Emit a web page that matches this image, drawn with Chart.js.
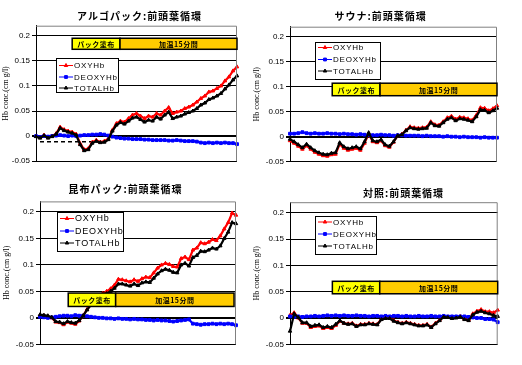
<!DOCTYPE html>
<html lang="ja">
<head>
  <meta charset="UTF-8">
  <title>前頭葉循環</title>
  <script src="https://cdn.jsdelivr.net/npm/chart.js"></script>
  <style>
    body { margin: 0; background: #fff; }
    #wrap { position: relative; width: 522px; height: 365px; overflow: hidden; }
    #wrap canvas { position: absolute; }
  </style>
</head>
<body>
<div id="wrap">
  <canvas id="c1" width="250" height="182" style="left:0;top:0"></canvas>
  <canvas id="c2" width="272" height="182" style="left:250px;top:0"></canvas>
  <canvas id="c3" width="250" height="183" style="left:0;top:182px"></canvas>
  <canvas id="c4" width="272" height="183" style="left:250px;top:182px"></canvas>
</div>
<script>
  // 凡例・目盛り・タイトル
  const seriesNames = ['OXYHb', 'DEOXYHb', 'TOTALHb'];
  const titles = ['アルゴパック:前頭葉循環', 'サウナ:前頭葉循環', '昆布パック:前頭葉循環', '対照:前頭葉循環'];
  const phaseLabels = ['パック塗布', '加温15分間'];
  const yTicks = [-0.05, 0, 0.05, 0.1, 0.15, 0.2];
  const yTitle = 'Hb conc.(cm g/l)';
  const steps = Array.from({ length: 51 }, (_, i) => i);

  // アルゴパック
  const argoOxy = [0.000, -0.003, 0.002, -0.003, 0.000, 0.005, 0.018, 0.013, 0.010, 0.008, 0.004,
    -0.015, -0.027, -0.025, -0.012, -0.008, -0.012, -0.010, -0.005, 0.012, 0.025,
    0.030, 0.028, 0.035, 0.042, 0.045, 0.040, 0.035, 0.040, 0.038, 0.045,
    0.042, 0.050, 0.057, 0.045, 0.048, 0.050, 0.055, 0.058, 0.062, 0.068,
    0.075, 0.080, 0.088, 0.090, 0.095, 0.100, 0.110, 0.118, 0.130, 0.138];
  const argoDeoxy = [0.000, -0.002, 0.000, -0.001, 0.000, 0.001, 0.002, 0.001, 0.000, 0.001, 0.000,
    0.001, 0.002, 0.002, 0.003, 0.003, 0.004, 0.003, 0.001, -0.001, -0.003,
    -0.004, -0.005, -0.005, -0.006, -0.006, -0.006, -0.007, -0.007, -0.008, -0.008,
    -0.008, -0.008, -0.009, -0.009, -0.008, -0.009, -0.010, -0.010, -0.010, -0.011,
    -0.013, -0.014, -0.013, -0.014, -0.013, -0.014, -0.013, -0.014, -0.014, -0.016];
  const argoTotal = [-0.001, -0.004, 0.001, -0.004, -0.001, 0.004, 0.016, 0.011, 0.008, 0.006, 0.002,
    -0.017, -0.029, -0.027, -0.014, -0.010, -0.013, -0.012, -0.007, 0.010, 0.022,
    0.027, 0.024, 0.030, 0.036, 0.038, 0.033, 0.028, 0.032, 0.030, 0.038,
    0.034, 0.042, 0.048, 0.035, 0.038, 0.040, 0.044, 0.047, 0.050, 0.055,
    0.062, 0.066, 0.073, 0.076, 0.080, 0.085, 0.094, 0.102, 0.112, 0.120];
  const argoMark = [{ x: 1, y: -0.011 }, { x: 16, y: -0.011 }];

  // サウナ
  const saunaOxy = [-0.008, -0.013, -0.019, -0.025, -0.018, -0.025, -0.031, -0.035, -0.038, -0.039,
    -0.036, -0.035, -0.015, -0.023, -0.027, -0.025, -0.023, -0.027, -0.013, 0.006,
    -0.010, -0.012, -0.008, -0.018, -0.021, -0.011, 0.002, 0.005, 0.013, 0.020,
    0.018, 0.017, 0.018, 0.019, 0.030, 0.024, 0.023, 0.030, 0.038, 0.041,
    0.035, 0.039, 0.038, 0.036, 0.033, 0.043, 0.058, 0.057, 0.052, 0.056, 0.062];
  const saunaDeoxy = [0.006, 0.006, 0.007, 0.009, 0.007, 0.006, 0.007, 0.006, 0.006, 0.007,
    0.006, 0.006, 0.005, 0.006, 0.005, 0.005, 0.004, 0.005, 0.004, 0.003,
    0.003, 0.003, 0.004, 0.003, 0.003, 0.002, 0.003, 0.003, 0.002, 0.002,
    0.002, 0.002, 0.001, 0.002, 0.001, 0.001, 0.001, 0.000, 0.001, 0.000,
    0.000, -0.001, 0.000, -0.001, -0.001, -0.001, -0.002, -0.001, -0.002, -0.002, -0.002];
  const saunaTotal = [-0.005, -0.010, -0.016, -0.022, -0.015, -0.022, -0.028, -0.032, -0.035, -0.036,
    -0.033, -0.032, -0.012, -0.020, -0.024, -0.022, -0.020, -0.024, -0.010, 0.008,
    -0.008, -0.010, -0.006, -0.016, -0.019, -0.010, 0.002, 0.004, 0.012, 0.018,
    0.016, 0.015, 0.016, 0.017, 0.028, 0.022, 0.021, 0.028, 0.035, 0.038,
    0.032, 0.036, 0.035, 0.033, 0.030, 0.040, 0.054, 0.053, 0.048, 0.052, 0.057];

  // 昆布パック
  const konbuOxy = [0.005, 0.004, 0.003, 0.000, -0.008, -0.009, -0.013, -0.008, -0.010, -0.012, -0.006,
    0.004, 0.016, 0.025, 0.033, 0.042, 0.046, 0.050, 0.055, 0.062, 0.073,
    0.072, 0.070, 0.068, 0.072, 0.069, 0.074, 0.077, 0.076, 0.085, 0.094,
    0.100, 0.103, 0.101, 0.097, 0.096, 0.112, 0.115, 0.110, 0.128, 0.132,
    0.142, 0.140, 0.143, 0.148, 0.146, 0.155, 0.168, 0.180, 0.198, 0.194];
  const konbuDeoxy = [0.002, 0.001, 0.000, 0.001, 0.002, 0.003, 0.004, 0.004, 0.003, 0.005, 0.004,
    0.004, 0.003, 0.002, 0.001, 0.000, 0.000, -0.001, -0.001, -0.002, -0.001,
    -0.002, -0.002, -0.003, -0.002, -0.003, -0.003, -0.004, -0.004, -0.005, -0.004,
    -0.005, -0.005, -0.006, -0.007, -0.006, -0.005, -0.004, -0.003, -0.011, -0.012,
    -0.013, -0.012, -0.012, -0.011, -0.012, -0.011, -0.012, -0.011, -0.012, -0.014];
  const konbuTotal = [0.006, 0.005, 0.004, 0.001, -0.007, -0.008, -0.011, -0.007, -0.009, -0.010, -0.005,
    0.004, 0.015, 0.024, 0.031, 0.040, 0.043, 0.046, 0.050, 0.056, 0.064,
    0.064, 0.062, 0.060, 0.064, 0.061, 0.066, 0.068, 0.067, 0.075, 0.083,
    0.089, 0.092, 0.090, 0.086, 0.085, 0.100, 0.103, 0.098, 0.114, 0.118,
    0.126, 0.125, 0.128, 0.132, 0.130, 0.136, 0.150, 0.162, 0.180, 0.178];

  // 対照
  const ctrlOxy = [0.005, 0.010, 0.000, -0.010, -0.010, -0.018, -0.016, -0.015, -0.020, -0.018, -0.020,
    -0.014, -0.006, -0.010, -0.011, -0.010, -0.015, -0.012, -0.012, -0.010, -0.011,
    -0.012, -0.002, 0.000, 0.000, -0.005, -0.008, -0.010, -0.008, -0.010, -0.012,
    -0.014, -0.014, -0.012, -0.017, -0.010, -0.004, 0.003, 0.002, 0.000, 0.001,
    0.003, -0.002, -0.004, 0.008, 0.013, 0.016, 0.012, 0.012, 0.010, 0.015];
  const ctrlDeoxy = [0.003, 0.002, 0.003, 0.002, 0.003, 0.003, 0.004, 0.003, 0.004, 0.005,
    0.004, 0.005, 0.004, 0.005, 0.004, 0.004, 0.005, 0.004, 0.004, 0.003,
    0.004, 0.004, 0.003, 0.004, 0.003, 0.004, 0.004, 0.003, 0.004, 0.003,
    0.003, 0.004, 0.003, 0.003, 0.004, 0.003, 0.003, 0.004, 0.003, 0.003,
    0.003, 0.003, 0.003, 0.002, 0.001, 0.000, 0.000, -0.002, -0.002, -0.003, -0.008];
  const ctrlTotal = [-0.025, 0.008, 0.001, -0.009, -0.009, -0.016, -0.014, -0.013, -0.018, -0.016, -0.018,
    -0.012, -0.005, -0.010, -0.012, -0.011, -0.016, -0.013, -0.013, -0.011, -0.012,
    -0.013, -0.003, -0.001, -0.001, -0.006, -0.009, -0.011, -0.009, -0.011, -0.013,
    -0.015, -0.015, -0.013, -0.018, -0.011, -0.005, 0.002, 0.001, -0.001, 0.000,
    0.002, -0.003, -0.005, 0.006, 0.011, 0.013, 0.010, 0.008, 0.005, 0.003];

  // 配置（ピクセル）と帯の範囲（データ単位）
  const panels = [
    { id: 'c1', title: titles[0], series: [argoOxy, argoDeoxy, argoTotal], mark: argoMark,
      pad: { left: 6, top: 25.7, right: 13, bottom: 20.8 }, titleAt: [139.5, 16.5], labelX: 6,
      legend: { x: 56, y: 58, w: 62, h: 34, rows: [65.5, 77, 88], size: 8 },
      phase: { x: [9, 20.9, 50], y: [0.195, 0.173] } },
    { id: 'c2', title: titles[1], series: [saunaOxy, saunaDeoxy, saunaTotal],
      pad: { left: 10, top: 26.7, right: 25, bottom: 20.3 }, titleAt: [130.7, 16.7], labelX: 7,
      legend: { x: 65, y: 42, w: 65, h: 37, rows: [47.5, 59.5, 71], size: 8 },
      phase: { x: [10.2, 21.75, 50], y: [0.107, 0.082] } },
    { id: 'c3', title: titles[2], series: [konbuOxy, konbuDeoxy, konbuTotal],
      pad: { left: 10, top: 19.4, right: 14, bottom: 20.7 }, titleAt: [125.5, 7.5], labelX: 7,
      legend: { x: 57, y: 30, w: 66, h: 39, rows: [36.5, 49, 61], size: 9 },
      phase: { x: [7.2, 19.3, 49.5], y: [0.0468, 0.0215] } },
    { id: 'c4', title: titles[3], series: [ctrlOxy, ctrlDeoxy, ctrlTotal],
      pad: { left: 10, top: 20.2, right: 24.3, bottom: 20.7 }, titleAt: [153.5, 11], labelX: 7,
      legend: { x: 65, y: 34, w: 61, h: 38, rows: [40, 52, 64], size: 8 },
      phase: { x: [10.2, 21.6, 50], y: [0.0697, 0.046] } }
  ];

  const colors = ['#ff0000', '#0000ff', '#000000'];
  const markers = ['triangle', 'rect', 'triangle'];
  const drawOrder = [2, 1, 0];

  function makeDecor(p) {
    return {
      id: 'decor',
      afterDatasetsDraw(chart) {
        const ctx = chart.ctx;
        const a = chart.chartArea;
        const xs = chart.scales.x, ys = chart.scales.y;
        ctx.save();
        // 枠（上・右）
        ctx.strokeStyle = '#808080';
        ctx.lineWidth = 1;
        ctx.beginPath();
        ctx.moveTo(a.left, a.top + 0.5);
        ctx.lineTo(a.right - 0.5, a.top + 0.5);
        ctx.lineTo(a.right - 0.5, a.bottom);
        ctx.stroke();

        // 期間の帯
        const top = ys.getPixelForValue(p.phase.y[0]);
        const bot = ys.getPixelForValue(p.phase.y[1]);
        const fills = ['#ffff00', '#ffcc00'];
        for (let k = 0; k < 2; k++) {
          const x0 = xs.getPixelForValue(p.phase.x[k]);
          const x1 = xs.getPixelForValue(p.phase.x[k + 1]);
          ctx.fillStyle = fills[k];
          ctx.fillRect(x0, top, x1 - x0, bot - top);
          ctx.strokeStyle = '#000';
          ctx.lineWidth = 1.5;
          ctx.strokeRect(x0, top, x1 - x0, bot - top);
          ctx.fillStyle = '#000';
          ctx.font = 'bold 7px "Noto Sans CJK JP"';
          ctx.textAlign = 'center';
          ctx.textBaseline = 'middle';
          ctx.letterSpacing = '0.5px';
          ctx.fillText(phaseLabels[k], (x0 + x1) / 2, (top + bot) / 2 + 0.5);
        }

        // 凡例
        const L = p.legend;
        ctx.fillStyle = '#fff';
        ctx.fillRect(L.x, L.y, L.w, L.h);
        ctx.strokeStyle = '#000';
        ctx.lineWidth = 1;
        ctx.strokeRect(L.x + 0.5, L.y + 0.5, L.w, L.h);
        ctx.textAlign = 'left';
        ctx.textBaseline = 'middle';
        ctx.font = L.size + 'px "Liberation Sans"';
        ctx.letterSpacing = '0.8px';
        seriesNames.forEach((name, k) => {
          const y = L.rows[k];
          ctx.strokeStyle = colors[k];
          ctx.lineWidth = 1;
          ctx.beginPath();
          ctx.moveTo(L.x + 3, y);
          ctx.lineTo(L.x + 17, y);
          ctx.stroke();
          ctx.fillStyle = colors[k];
          Chart.helpers.drawPoint(ctx, { pointStyle: markers[k], radius: 2, rotation: 0, borderWidth: 1 }, L.x + 10, y);
          ctx.fillStyle = '#000';
          ctx.fillText(name, L.x + 18, y + 0.5);
        });
        ctx.restore();
      },
      afterDraw(chart) {
        const ctx = chart.ctx;
        const a = chart.chartArea;
        ctx.save();
        ctx.fillStyle = '#000';
        ctx.font = 'bold 10px "Noto Sans CJK JP"';
        ctx.textAlign = 'center';
        ctx.textBaseline = 'middle';
        ctx.letterSpacing = '1px';
        ctx.fillText(p.title, p.titleAt[0], p.titleAt[1]);
        ctx.letterSpacing = '0px';
        ctx.translate(p.labelX, (a.top + a.bottom) / 2);
        ctx.rotate(-Math.PI / 2);
        ctx.font = '8px "Liberation Serif"';
        ctx.fillText(yTitle, 0, 0);
        ctx.restore();
      }
    };
  }

  panels.forEach(p => {
    const datasets = p.series.map((vals, k) => ({
      label: seriesNames[k],
      data: vals,
      borderColor: colors[k],
      backgroundColor: colors[k],
      borderWidth: 2.2,
      pointStyle: markers[k],
      pointRadius: 2,
      pointBorderWidth: 1,
      tension: 0,
      order: drawOrder[k]
    }));
    if (p.mark) {
      datasets.push({
        label: 'base',
        data: p.mark,
        borderColor: '#000',
        borderWidth: 1.5,
        borderDash: [4, 3],
        pointRadius: 0,
        order: 3
      });
    }
    new Chart(document.getElementById(p.id), {
      type: 'line',
      data: { labels: steps, datasets: datasets },
      options: {
        responsive: false,
        animation: false,
        devicePixelRatio: 1,
        layout: { padding: p.pad },
        plugins: { legend: { display: false }, tooltip: { enabled: false } },
        scales: {
          x: { display: false },
          y: {
            min: -0.05,
            max: 0.22,
            afterBuildTicks: s => { s.ticks = yTicks.map(v => ({ value: v })); },
            afterFit: s => { s.width = 30; },
            grid: {
              color: '#000',
              lineWidth: c => (c.tick && c.tick.value === 0 ? 2 : 1),
              tickLength: 4
            },
            border: { display: true, color: '#000', width: 1 },
            ticks: {
              padding: 2,
              color: '#000',
              font: { family: 'Liberation Sans', size: 8 },
              callback: v => String(v)
            }
          }
        }
      },
      plugins: [makeDecor(p)]
    });
  });
</script>
</body>
</html>
